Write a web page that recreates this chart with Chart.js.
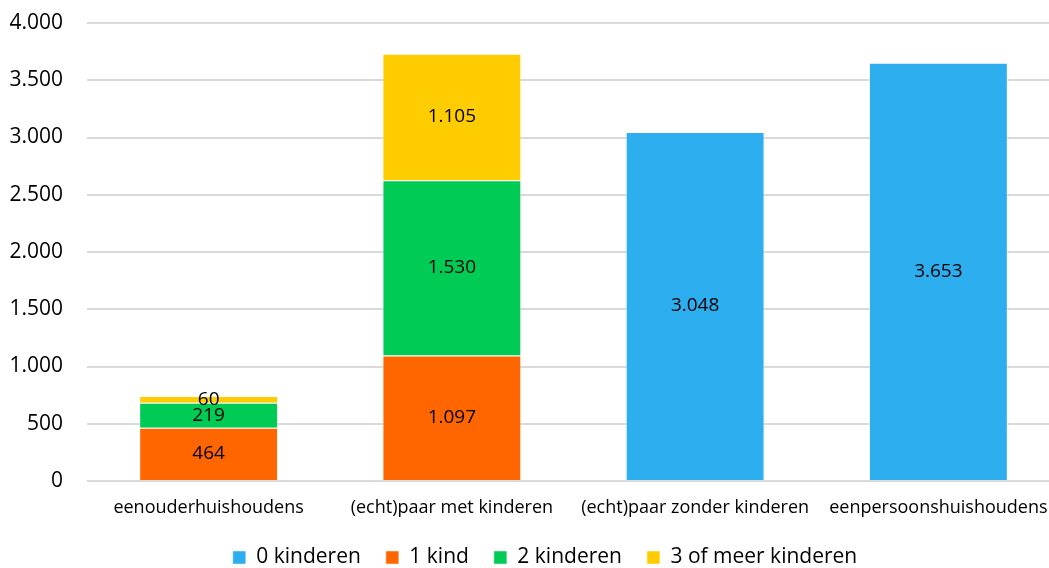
<!DOCTYPE html>
<html>
<head>
<meta charset="utf-8">
<script src="https://cdn.jsdelivr.net/npm/chart.js@4.4.1/dist/chart.umd.min.js"></script>
<style>
  html, body { margin: 0; padding: 0; background: #fff; overflow: hidden; }
  #wrap { position: absolute; left: 0; top: 0; width: 1082px; height: 578px; }
</style>
</head>
<body>
<div id="wrap"><canvas id="chart"></canvas></div>
<script>
// dati
const categories = ['eenouderhuishoudens', '(echt)paar met kinderen', '(echt)paar zonder kinderen', 'eenpersoonshuishoudens'];
const seriesNames = ['0 kinderen', '1 kind', '2 kinderen', '3 of meer kinderen'];
const kinderen0 = [0, 0, 3048, 3653];
const kinderen1 = [464, 1097, 0, 0];
const kinderen2 = [219, 1530, 0, 0];
const kinderen3 = [60, 1105, 0, 0];
const yTicks = [0, 500, 1000, 1500, 2000, 2500, 3000, 3500, 4000];

const colors = ['#2daeef', '#ff6600', '#00cc55', '#ffcc00'];
const FONT = "'Open Sans', sans-serif";

// punto come separatore delle migliaia
function fmt(v) {
  return String(v).replace(/\B(?=(\d{3})+(?!\d))/g, '.');
}

// etichette dentro le barre
const barLabels = {
  id: 'barLabels',
  afterDatasetsDraw(chart) {
    const ctx = chart.ctx;
    ctx.save();
    ctx.font = '19px ' + FONT;
    ctx.fillStyle = '#000';
    ctx.textAlign = 'center';
    ctx.textBaseline = 'middle';
    chart.data.datasets.forEach((ds, i) => {
      const meta = chart.getDatasetMeta(i);
      meta.data.forEach((bar, j) => {
        const v = ds.data[j];
        if (!v) return;
        ctx.fillText(fmt(v), bar.x, (bar.y + bar.base) / 2);
      });
    });
    ctx.restore();
  }
};

// legenda un po' piu' a destra, come nell'originale
const legendShift = {
  id: 'legendShift',
  afterLayout(chart) {
    chart.legend.left += 15;
    chart.legend.right += 15;
  }
};

const allSeries = [kinderen0, kinderen1, kinderen2, kinderen3];

new Chart(document.getElementById('chart'), {
  type: 'bar',
  data: {
    labels: categories,
    datasets: allSeries.map((d, i) => ({
      label: seriesNames[i],
      data: d,
      backgroundColor: colors[i],
      borderColor: 'rgba(255,255,255,0.45)',
      borderWidth: 1,
      barPercentage: 0.571,
      categoryPercentage: 1
    }))
  },
  options: {
    responsive: true,
    maintainAspectRatio: false,
    animation: false,
    layout: { padding: { top: 23, right: 22, left: 0, bottom: 0 } },
    plugins: {
      tooltip: { enabled: false },
      legend: {
        position: 'bottom',
        labels: {
          boxWidth: 13,
          boxHeight: 13,
          padding: 25,
          color: '#000',
          font: { family: FONT, size: 21, lineHeight: 1 }
        }
      }
    },
    scales: {
      x: {
        stacked: true,
        grid: { display: false },
        border: { display: false },
        ticks: { color: '#000', padding: 8, maxRotation: 0, autoSkip: false, font: { family: FONT, size: 18 } },
        afterFit: s => { s.height = 41; s.paddingLeft = 0; s.paddingRight = 0; }
      },
      y: {
        stacked: true,
        min: 0,
        max: 4000,
        afterBuildTicks: s => { s.ticks = yTicks.map(v => ({ value: v })); },
        grid: { color: '#d9d9d9', lineWidth: 2, drawTicks: false },
        border: { display: false },
        ticks: { color: '#000', padding: 24, callback: v => fmt(v), font: { family: FONT, size: 21 } },
        afterFit: s => { s.width = 87; s.paddingTop = 0; s.paddingBottom = 0; }
      }
    }
  },
  plugins: [barLabels, legendShift]
});
</script>
</body>
</html>
